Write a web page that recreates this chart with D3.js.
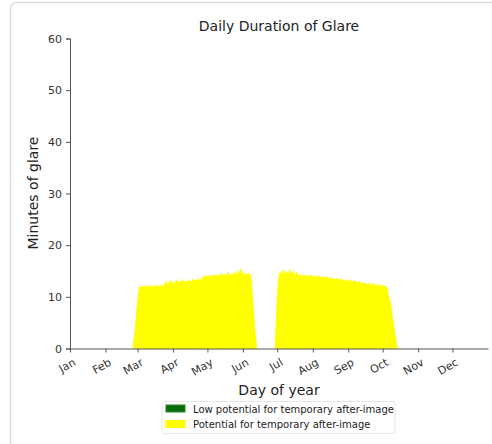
<!DOCTYPE html>
<html>
<head>
<meta charset="utf-8">
<script src="https://cdn.jsdelivr.net/npm/d3@7"></script>
<style>
  html, body { margin: 0; padding: 0; background: #fff; }
  svg { display: block; font-family: "DejaVu Sans", sans-serif; }
</style>
</head>
<body>
<svg id="chart" width="492" height="444"></svg>
<script>
// ---- data ----
const monthLabels = ["Jan","Feb","Mar","Apr","May","Jun","Jul","Aug","Sep","Oct","Nov","Dec"];
const monthStartDays = [0,31,59,90,120,151,181,212,243,273,304,334];
const yTicks = [0,10,20,30,40,50,60];

// first block of glare (day-of-year index of first value)
const springStartDay = 55;
const springMinutes = [
  0,2,4,6.5,9,11,
  12,12.1,12,12,12.1,12,12,12.1,12,12,12.2,12,12,12.1,12,12.3,12,12.1,12,12.4,12.1,12,
  12.6,13.1,12.5,12.6,12.7,13.2,12.6,12.7,12.8,12.7,13.3,12.8,12.8,12.9,12.8,13.4,12.9,12.9,
  13.0,12.9,13.0,13.1,13.0,13.0,13.5,13.1,13.1,13.2,13.1,13.6,13.2,13.3,13.4,13.8,
  14.0,14.0,14.1,13.9,14.0,14.1,14.0,14.2,14.0,14.1,14.3,14.0,14.1,14.0,14.2,14.6,14.1,14.2,14.3,14.1,14.2,14.8,14.2,14.3,14.2,14.4,14.3,14.9,14.3,14.4,
  15.0,14.5,15.4,14.6,14.5,
  14.4,14.5,14.3,14.4,14.6,14.3,14.2,
  11,8,5,2,0
];
// second block of glare
const summerStartDay = 179;
const summerMinutes = [
  0,5,10,13.5,
  14.6,14.5,14.7,
  15.2,14.6,14.5,15.0,14.6,14.4,15.3,14.5,14.4,14.9,14.3,14.4,14.8,
  14.2,14.1,14.2,14.0,14.1,14.4,14.0,14.1,14.0,14.2,13.9,14.0,14.3,13.9,13.9,14.0,13.8,13.9,14.1,13.8,13.8,13.7,13.9,13.7,13.7,14.0,13.6,13.6,13.5,13.8,13.5,13.5,
  13.4,13.3,13.6,13.3,13.3,13.2,13.5,13.2,13.2,13.1,13.4,13.1,13.0,13.0,13.3,12.9,12.9,12.9,13.2,12.8,12.8,12.7,13.0,
  12.6,12.6,12.5,12.8,12.5,12.4,12.4,12.7,12.3,12.3,12.3,12.6,12.2,12.2,12.2,12.5,12.1,12.1,12.1,12.3,12.0,12.0,11.9,
  11.5,10.5,9.5,8.5,7,5.5,4,2.5,1,0
];

const seriesNames = ["Low potential for temporary after-image", "Potential for temporary after-image"];
const seriesColors = ["#0a6b0a", "#ffff00"];

// ---- layout ----
const svg = d3.select("#chart");
const plotLeft = 70, plotRight = 488, plotTop = 38.5, plotBottom = 348.5;

// card border
svg.append("rect")
  .attr("x", 10.5).attr("y", 2.5)
  .attr("width", 500).attr("height", 460)
  .attr("rx", 6).attr("fill", "#fff")
  .attr("stroke", "#dcdcdc").attr("stroke-width", 1.5);

const x = d3.scaleLinear().domain([0, 365]).range([plotLeft, plotRight]);
const y = d3.scaleLinear().domain([0, 60]).range([plotBottom, plotTop]);

function toPoints(start, arr) { return arr.map((v, i) => ({ d: start + i, v })); }

const area = d3.area()
  .x(p => x(p.d))
  .y0(y(0))
  .y1(p => y(p.v));

[toPoints(springStartDay, springMinutes), toPoints(summerStartDay, summerMinutes)].forEach(pts => {
  svg.append("path")
    .datum(pts)
    .attr("d", area)
    .attr("fill", seriesColors[1])
    .attr("stroke", seriesColors[1])
    .attr("stroke-width", 0.8);
});

// axes
const yAxis = d3.axisLeft(y).tickValues(yTicks).tickSize(4).tickPadding(4);
const gy = svg.append("g").attr("transform", `translate(${plotLeft},0)`).call(yAxis);
gy.select(".domain").attr("stroke", "#555");
gy.selectAll(".tick line").attr("stroke", "#555");
gy.selectAll(".tick text").attr("font-size", 11).attr("fill", "#333").attr("font-family", "DejaVu Sans");

const xAxis = d3.axisBottom(x).tickValues(monthStartDays)
  .tickFormat((d, i) => monthLabels[i]).tickSize(4).tickSizeOuter(0);
const gx = svg.append("g").attr("transform", `translate(0,${plotBottom})`).call(xAxis);
gx.select(".domain").attr("stroke", "#555");
gx.selectAll(".tick line").attr("stroke", "#555");
gx.selectAll(".tick text")
  .attr("font-size", 11).attr("fill", "#333").attr("font-family", "DejaVu Sans")
  .attr("text-anchor", "end")
  .attr("dy", null).attr("y", 0)
  .attr("transform", "translate(6,16) rotate(-30)");

// title and labels
svg.append("text").attr("x", 279).attr("y", 31)
  .attr("text-anchor", "middle").attr("font-size", 14).attr("fill", "#222")
  .text("Daily Duration of Glare");
svg.append("text").attr("x", 279).attr("y", 395)
  .attr("text-anchor", "middle").attr("font-size", 14).attr("fill", "#222")
  .text("Day of year");
svg.append("text")
  .attr("transform", "translate(38,193) rotate(-90)")
  .attr("text-anchor", "middle").attr("font-size", 14).attr("fill", "#222")
  .text("Minutes of glare");

// legend
const lg = svg.append("g");
lg.append("rect").attr("x", 162).attr("y", 401.5).attr("width", 233).attr("height", 32)
  .attr("fill", "#fff").attr("stroke", "#e6e6e6").attr("rx", 2);
seriesNames.forEach((name, i) => {
  const yy = 405 + i * 15.5;
  lg.append("rect").attr("x", 166).attr("y", yy).attr("width", 19).attr("height", 7)
    .attr("fill", seriesColors[i])
    .attr("stroke", i === 0 ? "#2a8a2a" : seriesColors[i]).attr("stroke-width", 1);
  lg.append("text").attr("x", 193).attr("y", yy + 7.5)
    .attr("font-size", 10).attr("fill", "#222").text(name);
});
</script>
</body>
</html>
